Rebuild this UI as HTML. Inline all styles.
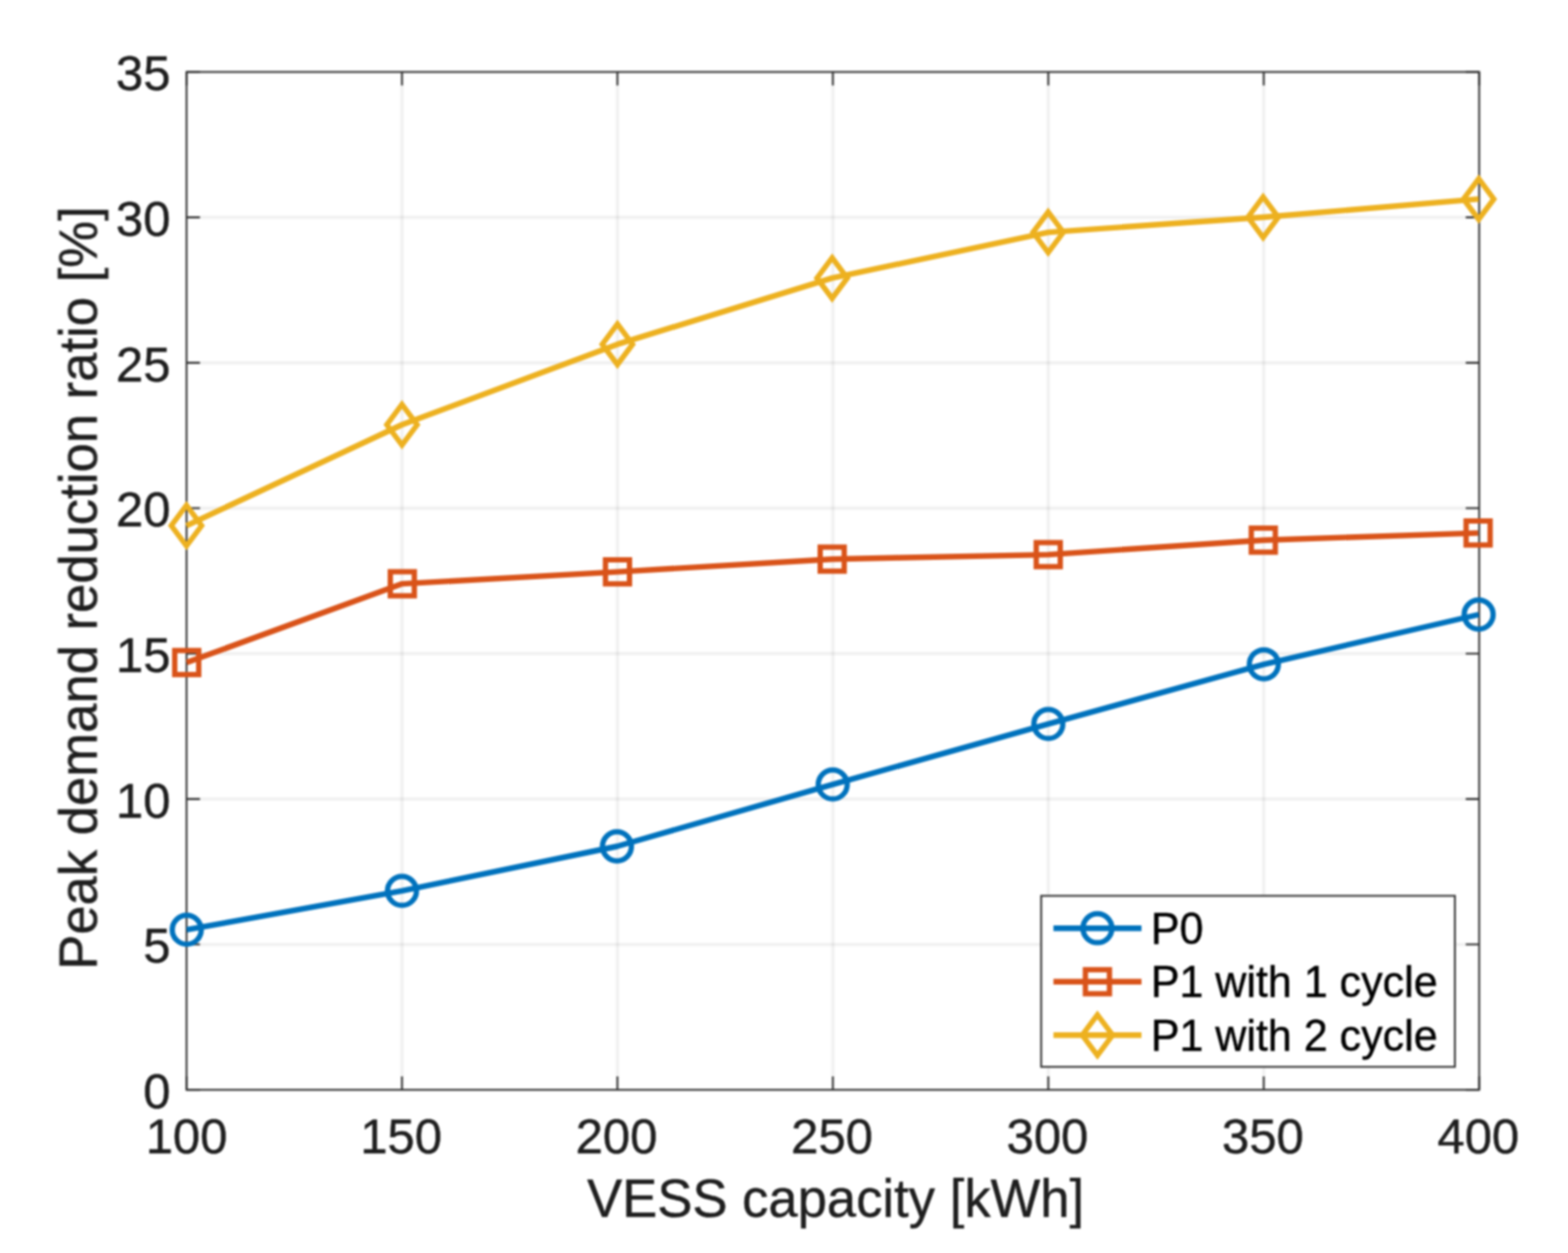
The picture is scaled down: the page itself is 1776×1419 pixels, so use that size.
<!DOCTYPE html><html><head><meta charset="utf-8"><title>Peak demand reduction ratio vs VESS capacity</title>
<style>html,body{margin:0;padding:0;background:#fff;overflow:hidden;}svg{display:block;}text{font-family:"Liberation Sans", Arial, Helvetica, sans-serif;}</style></head><body>
<svg width="1776" height="1419" viewBox="0 0 1776 1419">
<defs>
<filter id="bg" filterUnits="userSpaceOnUse" x="0" y="0" width="1776" height="1419" color-interpolation-filters="sRGB"><feGaussianBlur stdDeviation="1.2"/></filter>
<filter id="bt" filterUnits="userSpaceOnUse" x="0" y="0" width="1776" height="1419" color-interpolation-filters="sRGB"><feGaussianBlur stdDeviation="0.9"/></filter>
</defs>
<rect x="0" y="0" width="1776" height="1419" fill="#fff"/>
<g filter="url(#bg)">
<rect x="0" y="0" width="1776" height="1419" fill="#fff"/>
<path d="M455.32 81.5V1234.2" stroke="#262626" stroke-opacity="0.062" stroke-width="3.8" fill="none"/>
<path d="M699.33 81.5V1234.2" stroke="#262626" stroke-opacity="0.062" stroke-width="3.8" fill="none"/>
<path d="M943.35 81.5V1234.2" stroke="#262626" stroke-opacity="0.062" stroke-width="3.8" fill="none"/>
<path d="M1187.37 81.5V1234.2" stroke="#262626" stroke-opacity="0.062" stroke-width="3.8" fill="none"/>
<path d="M1431.38 81.5V1234.2" stroke="#262626" stroke-opacity="0.062" stroke-width="3.8" fill="none"/>
<path d="M211.3 1069.53H1675.4" stroke="#262626" stroke-opacity="0.062" stroke-width="3.8" fill="none"/>
<path d="M211.3 904.86H1675.4" stroke="#262626" stroke-opacity="0.062" stroke-width="3.8" fill="none"/>
<path d="M211.3 740.19H1675.4" stroke="#262626" stroke-opacity="0.062" stroke-width="3.8" fill="none"/>
<path d="M211.3 575.51H1675.4" stroke="#262626" stroke-opacity="0.062" stroke-width="3.8" fill="none"/>
<path d="M211.3 410.84H1675.4" stroke="#262626" stroke-opacity="0.062" stroke-width="3.8" fill="none"/>
<path d="M211.3 246.17H1675.4" stroke="#262626" stroke-opacity="0.062" stroke-width="3.8" fill="none"/>
<path d="M211.3 1234.2v-15.2M211.3 81.5v15.2M455.32 1234.2v-15.2M455.32 81.5v15.2M699.33 1234.2v-15.2M699.33 81.5v15.2M943.35 1234.2v-15.2M943.35 81.5v15.2M1187.37 1234.2v-15.2M1187.37 81.5v15.2M1431.38 1234.2v-15.2M1431.38 81.5v15.2M1675.4 1234.2v-15.2M1675.4 81.5v15.2M211.3 1234.2h15.2M1675.4 1234.2h-15.2M211.3 1069.53h15.2M1675.4 1069.53h-15.2M211.3 904.86h15.2M1675.4 904.86h-15.2M211.3 740.19h15.2M1675.4 740.19h-15.2M211.3 575.51h15.2M1675.4 575.51h-15.2M211.3 410.84h15.2M1675.4 410.84h-15.2M211.3 246.17h15.2M1675.4 246.17h-15.2M211.3 81.5h15.2M1675.4 81.5h-15.2" stroke="#333333" stroke-width="2.1" fill="none"/>
<rect x="211.3" y="81.5" width="1464.1" height="1152.7" stroke="#333333" stroke-width="2.1" fill="none"/>
<path d="M211.5 1052.9 L455.3 1008.9 L698.8 958.5 L943.2 888.4 L1187.4 819.9 L1431.5 752.3 L1674.8 696" stroke="#0072BD" stroke-width="6.4" fill="none" stroke-linejoin="round" stroke-linecap="butt"/>
<circle cx="211.5" cy="1052.9" r="16.4" stroke="#0072BD" stroke-width="6.0" fill="none"/>
<circle cx="455.3" cy="1008.9" r="16.4" stroke="#0072BD" stroke-width="6.0" fill="none"/>
<circle cx="698.8" cy="958.5" r="16.4" stroke="#0072BD" stroke-width="6.0" fill="none"/>
<circle cx="943.2" cy="888.4" r="16.4" stroke="#0072BD" stroke-width="6.0" fill="none"/>
<circle cx="1187.4" cy="819.9" r="16.4" stroke="#0072BD" stroke-width="6.0" fill="none"/>
<circle cx="1431.5" cy="752.3" r="16.4" stroke="#0072BD" stroke-width="6.0" fill="none"/>
<circle cx="1674.8" cy="696" r="16.4" stroke="#0072BD" stroke-width="6.0" fill="none"/>
<path d="M211.5 750.3 L455.7 661.1 L699.4 647.6 L942.6 633.2 L1187.3 628.1 L1430.9 611.7 L1674.2 603.6" stroke="#D95319" stroke-width="6.4" fill="none" stroke-linejoin="round" stroke-linecap="butt"/>
<rect x="197.9" y="736.7" width="27.2" height="27.2" stroke="#D95319" stroke-width="6.0" fill="none"/>
<rect x="442.1" y="647.5" width="27.2" height="27.2" stroke="#D95319" stroke-width="6.0" fill="none"/>
<rect x="685.8" y="634" width="27.2" height="27.2" stroke="#D95319" stroke-width="6.0" fill="none"/>
<rect x="929" y="619.6" width="27.2" height="27.2" stroke="#D95319" stroke-width="6.0" fill="none"/>
<rect x="1173.7" y="614.5" width="27.2" height="27.2" stroke="#D95319" stroke-width="6.0" fill="none"/>
<rect x="1417.3" y="598.1" width="27.2" height="27.2" stroke="#D95319" stroke-width="6.0" fill="none"/>
<rect x="1660.6" y="590" width="27.2" height="27.2" stroke="#D95319" stroke-width="6.0" fill="none"/>
<path d="M211.2 595.3 L455.3 481 L699.3 389.9 L942.5 314.9 L1187.2 263.1 L1430.7 246 L1674.8 225.4" stroke="#EDB120" stroke-width="6.4" fill="none" stroke-linejoin="round" stroke-linecap="butt"/>
<path d="M211.2 572.3L228.4 595.3L211.2 618.3L194 595.3Z" stroke="#EDB120" stroke-width="6.0" fill="none" stroke-linejoin="miter"/>
<path d="M455.3 458L472.5 481L455.3 504L438.1 481Z" stroke="#EDB120" stroke-width="6.0" fill="none" stroke-linejoin="miter"/>
<path d="M699.3 366.9L716.5 389.9L699.3 412.9L682.1 389.9Z" stroke="#EDB120" stroke-width="6.0" fill="none" stroke-linejoin="miter"/>
<path d="M942.5 291.9L959.7 314.9L942.5 337.9L925.3 314.9Z" stroke="#EDB120" stroke-width="6.0" fill="none" stroke-linejoin="miter"/>
<path d="M1187.2 240.1L1204.4 263.1L1187.2 286.1L1170 263.1Z" stroke="#EDB120" stroke-width="6.0" fill="none" stroke-linejoin="miter"/>
<path d="M1430.7 223L1447.9 246L1430.7 269L1413.5 246Z" stroke="#EDB120" stroke-width="6.0" fill="none" stroke-linejoin="miter"/>
<path d="M1674.8 202.4L1692 225.4L1674.8 248.4L1657.6 225.4Z" stroke="#EDB120" stroke-width="6.0" fill="none" stroke-linejoin="miter"/>
<rect x="1179.3" y="1014.5" width="468.6" height="193.7" fill="#fff" stroke="#333333" stroke-width="2.1"/>
<path d="M1193.2 1051.2H1292.9" stroke="#0072BD" stroke-width="6.4"/>
<circle cx="1243" cy="1051.2" r="16.4" stroke="#0072BD" stroke-width="6.0" fill="none"/>
<path d="M1193.2 1111.8H1292.9" stroke="#D95319" stroke-width="6.4"/>
<rect x="1229.4" y="1098.2" width="27.2" height="27.2" stroke="#D95319" stroke-width="6.0" fill="none"/>
<path d="M1193.2 1172.3H1292.9" stroke="#EDB120" stroke-width="6.4"/>
<path d="M1243 1149.3L1260.2 1172.3L1243 1195.3L1225.8 1172.3Z" stroke="#EDB120" stroke-width="6.0" fill="none" stroke-linejoin="miter"/>
</g>
<g filter="url(#bt)" fill="#1e1e1e" stroke="#1e1e1e" stroke-width="0.45">
<text transform="translate(211.3 1305.8) scale(1.03 1.03)" font-size="54" text-anchor="middle">100</text>
<text transform="translate(454.32 1305.8) scale(1.03 1.03)" font-size="54" text-anchor="middle">150</text>
<text transform="translate(698.33 1305.8) scale(1.03 1.03)" font-size="54" text-anchor="middle">200</text>
<text transform="translate(942.35 1305.8) scale(1.03 1.03)" font-size="54" text-anchor="middle">250</text>
<text transform="translate(1186.37 1305.8) scale(1.03 1.03)" font-size="54" text-anchor="middle">300</text>
<text transform="translate(1430.38 1305.8) scale(1.03 1.03)" font-size="54" text-anchor="middle">350</text>
<text transform="translate(1674.4 1305.8) scale(1.03 1.03)" font-size="54" text-anchor="middle">400</text>
<text transform="translate(193.2 1255.1) scale(1.03 1.03)" font-size="54" text-anchor="end">0</text>
<text transform="translate(193.2 1090.43) scale(1.03 1.03)" font-size="54" text-anchor="end">5</text>
<text transform="translate(193.2 925.76) scale(1.03 1.03)" font-size="54" text-anchor="end">10</text>
<text transform="translate(193.2 761.09) scale(1.03 1.03)" font-size="54" text-anchor="end">15</text>
<text transform="translate(193.2 596.41) scale(1.03 1.03)" font-size="54" text-anchor="end">20</text>
<text transform="translate(193.2 431.74) scale(1.03 1.03)" font-size="54" text-anchor="end">25</text>
<text transform="translate(193.2 267.07) scale(1.03 1.03)" font-size="54" text-anchor="end">30</text>
<text transform="translate(193.2 102.4) scale(1.03 1.03)" font-size="54" text-anchor="end">35</text>
<text transform="translate(946.5 1377.6) scale(1.0 1.03)" font-size="59.6" text-anchor="middle">VESS capacity [kWh]</text>
<text transform="translate(109.2 666) rotate(-90) scale(1.0 1.03)" font-size="59.6" text-anchor="middle">Peak demand reduction ratio [%]</text>
<text transform="translate(1303.4 1068.7) scale(1.005 1.04)" font-size="48.5" fill="#000" stroke="#000">P0</text>
<text transform="translate(1303.4 1129.3) scale(1.005 1.04)" font-size="48.5" fill="#000" stroke="#000">P1 with 1 cycle</text>
<text transform="translate(1303.4 1189.8) scale(1.005 1.04)" font-size="48.5" fill="#000" stroke="#000">P1 with 2 cycle</text>
</g>
</svg></body></html>
